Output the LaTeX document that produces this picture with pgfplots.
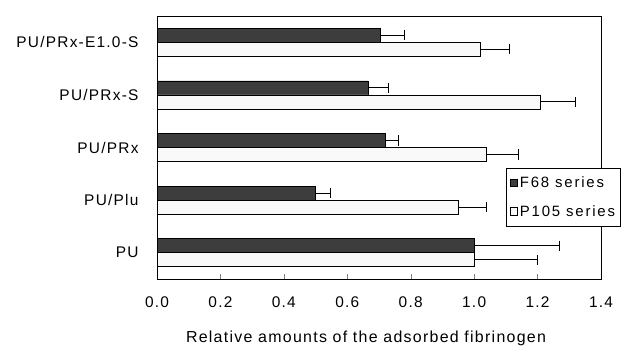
\documentclass[border=0pt]{standalone}
\usepackage{pgfplots}
\pgfplotsset{compat=1.18}
\usepackage{fontspec}
\setmainfont{Liberation Sans}
\newfontfamily\tickfont[LetterSpace=8]{Liberation Sans}
\newfontfamily\labfont[LetterSpace=8]{Liberation Sans}
\newfontfamily\legfont[LetterSpace=12]{Liberation Sans}
\begin{document}
\begin{tikzpicture}[x=1bp,y=1bp]
\path (0,0) rectangle (628bp,347bp);
\begin{axis}[
  at={(157bp,68bp)}, anchor=south west,
  scale only axis, width=444bp, height=263bp,
  xmin=0, xmax=1.4, ymin=0.5, ymax=5.5,
  xtick={0,0.2,...,1.4},
  /pgf/number format/fixed,
  /pgf/number format/fixed zerofill,
  /pgf/number format/precision=1,
  /pgf/number format/assume math mode=true,
  xtick pos=bottom, ytick pos=left,
  tick align=inside,
  major tick length=5bp, minor tick length=5bp,
  ytick={1,2,3,4,5},
  yticklabels={PU,PU/Plu,PU/PRx,PU/PRx-S,PU/PRx-E1.0-S},
  minor ytick={1.5,2.5,3.5,4.5},
  ytick style={draw=none},
  minor tick style={draw=black},
  every tick label/.append style={font=\tickfont\fontsize{15.5}{18}\selectfont},
  yticklabel style={xshift=-10bp},
  xticklabel style={anchor=north, yshift=-14bp},
  xlabel={Relative amounts of the adsorbed fibrinogen},
  xlabel style={font=\labfont\fontsize{16}{19}\selectfont,
    at={(axis description cs:0.5,0)}, anchor=north, yshift=-48bp, xshift=-13bp},
  xbar, bar width=14bp,
  axis line style={black, line width=1pt},
  legend style={at={(rel axis cs:0.788,0.422)}, anchor=north west,
    draw=black, line width=0.9pt, font=\legfont\fontsize{15}{18}\selectfont,
    row sep=12bp, inner xsep=3bp, inner ysep=7bp, outer sep=0pt},
  legend cell align=left,
  legend image code/.code={\draw[#1, line width=0.6pt] (0bp,-3.5bp) rectangle (7.5bp,4bp);},
  clip=false,
]
\addplot[bar shift=7bp, fill=black!76, draw=black, line width=0.8pt,
  error bars/.cd, x dir=plus, x explicit,
  error bar style={line width=0.9pt, black},
  error mark options={rotate=90, mark size=5bp, line width=0.9pt}]
  coordinates {
  (1.00,1) +- (0.27,0)
  (0.50,2) +- (0.046,0)
  (0.72,3) +- (0.04,0)
  (0.665,4) +- (0.065,0)
  (0.705,5) +- (0.075,0)
  };
\addlegendentry{F68 series}
\addplot[bar shift=-7bp, fill=gray!5, draw=black, line width=0.8pt,
  error bars/.cd, x dir=plus, x explicit,
  error bar style={line width=0.9pt, black},
  error mark options={rotate=90, mark size=5bp, line width=0.9pt}]
  coordinates {
  (1.00,1) +- (0.20,0)
  (0.95,2) +- (0.09,0)
  (1.04,3) +- (0.10,0)
  (1.21,4) +- (0.11,0)
  (1.02,5) +- (0.09,0)
  };
\addlegendentry{P105 series}
\end{axis}
\end{tikzpicture}
\end{document}
